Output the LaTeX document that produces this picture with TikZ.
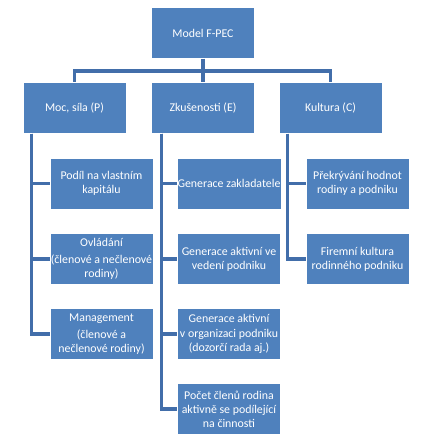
\documentclass[tikz,border=0pt]{standalone}
\usepackage{fontspec}
\setmainfont{Carlito}
\definecolor{bleu}{RGB}{79,129,189}
\definecolor{bleufonce}{RGB}{66,110,170}
\begin{document}
\begin{tikzpicture}[x=0.75pt, y=-0.75pt,
        boite/.style={fill=bleu, draw=white, thin, text=white, align=center,
            minimum width=77.25pt, minimum height=38pt, inner sep=0.3pt,
            font=\fontsize{8.9}{10.6}\selectfont},
        lien/.style={draw=bleufonce, line width=2.3pt}]
        \useasboundingbox (0, 0) rectangle (434, 443);
        % racine et les trois dimensions
        \node[boite] (racine) at (203, 33) {Model F-PEC};
        \node[boite] (p) at (74.5, 108) {Moc, síla (P)};
        \node[boite] (e) at (203, 108) {Zkušenosti (E)};
        \node[boite] (c) at (330.5, 108) {Kultura (C)};
        % les sous-dimensions
        \node[boite] (p1) at (101.5, 183.5) {Podíl na vlastním\\kapitálu};
        \node[boite] (p2) at (101.5, 259) {Ovládání\\[2.5pt](členové a nečlenové\\rodiny)};
        \node[boite] (p3) at (101.5, 334) {Management\\[2.5pt](členové a\\nečlenové rodiny)};
        \node[boite] (e1) at (229, 183.5) {Generace zakladatele};
        \node[boite] (e2) at (229, 259) {Generace aktivní ve\\vedení podniku};
        \node[boite] (e3) at (229, 334) {Generace aktivní\\v organizaci podniku\\(dozorčí rada aj.)};
        \node[boite] (e4) at (229, 409) {Počet členů rodina\\aktivně se podílející\\na činnosti};
        \node[boite] (c1) at (357.5, 183.5) {Překrývání hodnot\\rodiny a podniku};
        \node[boite] (c2) at (357.5, 259) {Firemní kultura\\rodinného podniku};
        % liaisons
        \coordinate (barre) at (203, 71);
        \draw[lien] (racine.south) -- (e.north);
        \draw[lien] (racine.south |- barre) -| (p.north);
        \draw[lien] (racine.south |- barre) -| (c.north);
        \coordinate (axep) at ([xshift=6.75pt]p.south west);
        \coordinate (axee) at ([xshift=7.5pt]e.south west);
        \coordinate (axec) at ([xshift=6.75pt]c.south west);
        \foreach \enfant in {p1,p2,p3} {
            \draw[lien] (axep) |- (\enfant.west);
        }
        \foreach \enfant in {e1,e2,e3,e4} {
            \draw[lien] (axee) |- (\enfant.west);
        }
        \foreach \enfant in {c1,c2} {
            \draw[lien] (axec) |- (\enfant.west);
        }
    \end{tikzpicture}
\end{document}
